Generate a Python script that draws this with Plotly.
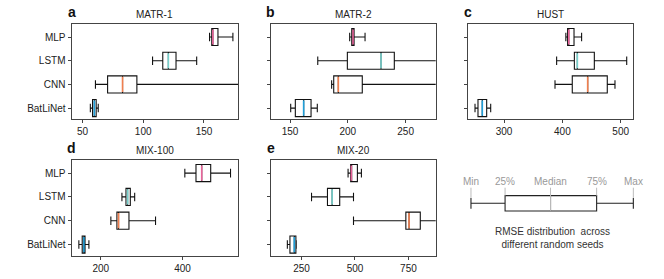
import plotly.graph_objects as go

# ---------------- data ----------------
models = ["BatLiNet", "CNN", "LSTM", "MLP"]
median_colors = ["#1f9fd9", "#f07f4f", "#76d0cc", "#e8649a"]

panel_letters = ["a", "b", "c", "d", "e"]
panel_titles = ["MATR-1", "MATR-2", "HUST", "MIX-100", "MIX-20"]

matr1_min = [56.5, 60.7, 107.7, 154.6]
matr1_q1 = [58.3, 70.7, 116.1, 156.4]
matr1_med = [59.8, 83.0, 120.7, 157.3]
matr1_q3 = [61.3, 94.8, 127.0, 161.5]
matr1_max = [63.0, 200.0, 144.0, 173.8]

matr2_min = [150.6, 186.0, 174.0, 201.6]
matr2_q1 = [154.6, 187.8, 199.6, 203.4]
matr2_med = [161.8, 191.8, 228.7, 204.5]
matr2_q3 = [168.2, 212.5, 240.2, 205.4]
matr2_max = [173.6, 300.0, 290.0, 214.9]

hust_min = [250.3, 387.4, 390.2, 406.0]
hust_q1 = [255.4, 417.0, 420.6, 409.0]
hust_med = [262.8, 443.4, 425.7, 411.0]
hust_q3 = [270.3, 477.0, 454.8, 420.0]
hust_max = [277.2, 490.2, 510.3, 433.0]

mix100_min = [146.4, 224.7, 251.8, 405.7]
mix100_q1 = [154.6, 239.5, 261.7, 433.0]
mix100_med = [158.8, 243.5, 265.7, 447.0]
mix100_q3 = [161.5, 269.0, 272.3, 469.0]
mix100_max = [171.0, 334.0, 283.0, 517.5]

mix20_min = [183.4, 493.0, 296.6, 467.6]
mix20_q1 = [195.5, 738.0, 371.2, 479.7]
mix20_med = [216.0, 753.0, 393.0, 483.0]
mix20_q3 = [223.4, 805.6, 428.5, 511.2]
mix20_max = [225.0, 960.0, 493.0, 530.0]

x_ticks = [[50, 100, 150], [150, 200, 250], [300, 400, 500], [200, 400], [250, 500, 750]]

legend_labels = ["Min", "25%", "Median", "75%", "Max"]
legend_stats = [0, 21, 49, 77.4, 100]
legend_caption = "RMSE distribution  across<br>different random seeds"

# ---------------- layout helpers ----------------
W, H = 664, 279
FONT = "Liberation Sans, Arial, sans-serif"


def px_x(a, b):
    return [a / W, b / W]


def px_y(top, bottom):
    return [1 - bottom / H, 1 - top / H]


panels = [
    dict(mn=matr1_min, q1=matr1_q1, md=matr1_med, q3=matr1_q3, mx=matr1_max,
         xd=px_x(71.5, 238), yd=px_y(24, 119), xr=[41, 178]),
    dict(mn=matr2_min, q1=matr2_q1, md=matr2_med, q3=matr2_q3, mx=matr2_max,
         xd=px_x(270.7, 435.7), yd=px_y(24, 119), xr=[133.3, 276]),
    dict(mn=hust_min, q1=hust_q1, md=hust_med, q3=hust_q3, mx=hust_max,
         xd=px_x(468.3, 633.3), yd=px_y(24, 119), xr=[238.8, 521.6]),
    dict(mn=mix100_min, q1=mix100_q1, md=mix100_med, q3=mix100_q3, mx=mix100_max,
         xd=px_x(71.5, 238), yd=px_y(160, 255.5), xr=[128.4, 535.8]),
    dict(mn=mix20_min, q1=mix20_q1, md=mix20_med, q3=mix20_q3, mx=mix20_max,
         xd=px_x(270.7, 435.7), yd=px_y(160, 255.5), xr=[105.5, 877.7]),
]

fig = go.Figure()
ypos = list(range(len(models)))
BOXW = 0.72

annotations = []
for k, p in enumerate(panels):
    n = "" if k == 0 else str(k + 1)
    xa, ya = "x" + n, "y" + n
    fig.add_trace(go.Box(
        y=ypos, q1=p["q1"], median=p["md"], q3=p["q3"],
        lowerfence=p["mn"], upperfence=p["mx"],
        orientation="h", width=BOXW, whiskerwidth=0.5,
        fillcolor="white", line=dict(color="#111111", width=1.1),
        xaxis=xa, yaxis=ya, showlegend=False, hoverinfo="skip"))
    for i, m in enumerate(models):
        fig.add_trace(go.Scatter(
            x=[p["md"][i], p["md"][i]], y=[i - BOXW / 2 + 0.04, i + BOXW / 2 - 0.04],
            mode="lines", line=dict(color=median_colors[i], width=1.6),
            xaxis=xa, yaxis=ya, showlegend=False, hoverinfo="skip"))
    common = dict(showline=True, mirror=True, linecolor="#444444", linewidth=1,
                  ticks="outside", ticklen=3, tickcolor="#444444", showgrid=False,
                  zeroline=False, tickfont=dict(family=FONT, size=10, color="#222222"))
    fig.layout["xaxis" + n] = dict(domain=p["xd"], range=p["xr"], anchor=ya,
                                   tickvals=x_ticks[k], **common)
    fig.layout["yaxis" + n] = dict(domain=p["yd"], range=[-0.46, 3.55], anchor=xa,
                                   tickvals=ypos, ticktext=models,
                                   showticklabels=(k in (0, 3)), **common)
    # title & letter
    xc = (p["xd"][0] + p["xd"][1]) / 2
    ytop = p["yd"][1]
    annotations.append(dict(text=panel_titles[k], x=xc, y=ytop + 10 / H, xref="paper", yref="paper",
                            showarrow=False, font=dict(family=FONT, size=10, color="#222222"),
                            xanchor="center", yanchor="middle"))
    annotations.append(dict(text="<b>" + panel_letters[k] + "</b>", x=p["xd"][0], y=ytop + 12 / H,
                            xref="paper", yref="paper", showarrow=False,
                            font=dict(family=FONT, size=14, color="#111111"),
                            xanchor="center", yanchor="middle"))

# ---------------- schematic legend ----------------
fig.add_trace(go.Box(
    y=[0], q1=[legend_stats[1]], median=[legend_stats[2]], q3=[legend_stats[3]],
    lowerfence=[legend_stats[0]], upperfence=[legend_stats[4]],
    orientation="h", width=0.77, whiskerwidth=0.7,
    fillcolor="white", line=dict(color="#222222", width=1.1),
    xaxis="x6", yaxis="y6", showlegend=False, hoverinfo="skip"))
guide_bottom = [0.27, 0.385, -0.38, 0.385, 0.27]
gx, gy = [], []
for v, b in zip(legend_stats, guide_bottom):
    gx += [v, v, None]
    gy += [0.78, b, None]
fig.add_trace(go.Scatter(x=gx, y=gy, mode="lines", line=dict(color="#bbbbbb", width=1),
                         xaxis="x6", yaxis="y6", showlegend=False, hoverinfo="skip"))
for lab, v in zip(legend_labels, legend_stats):
    annotations.append(dict(text=lab, x=v, y=1.08, xref="x6", yref="y6", showarrow=False,
                            font=dict(family=FONT, size=10, color="#999999"),
                            xanchor="center", yanchor="middle"))
annotations.append(dict(text=legend_caption, x=552.3 / W, y=1 - 237.5 / H, xref="paper", yref="paper",
                        showarrow=False, font=dict(family=FONT, size=10, color="#333333"),
                        xanchor="center", yanchor="middle", align="center"))

hidden = dict(visible=False, showgrid=False, zeroline=False)
fig.layout["xaxis6"] = dict(domain=[466.1 / W, 638.2 / W], range=[-3, 103], anchor="y6", **hidden)
fig.layout["yaxis6"] = dict(domain=px_y(173.3, 223.3), range=[-1, 1.5], anchor="x6", **hidden)

fig.update_layout(width=W, height=H, margin=dict(l=0, r=0, t=0, b=0),
                  paper_bgcolor="white", plot_bgcolor="white",
                  annotations=annotations, showlegend=False)

fig.write_html("out.html", config={"displayModeBar": False, "staticPlot": True},
               post_script="document.body.style.margin='0';document.body.style.overflow='hidden';")
